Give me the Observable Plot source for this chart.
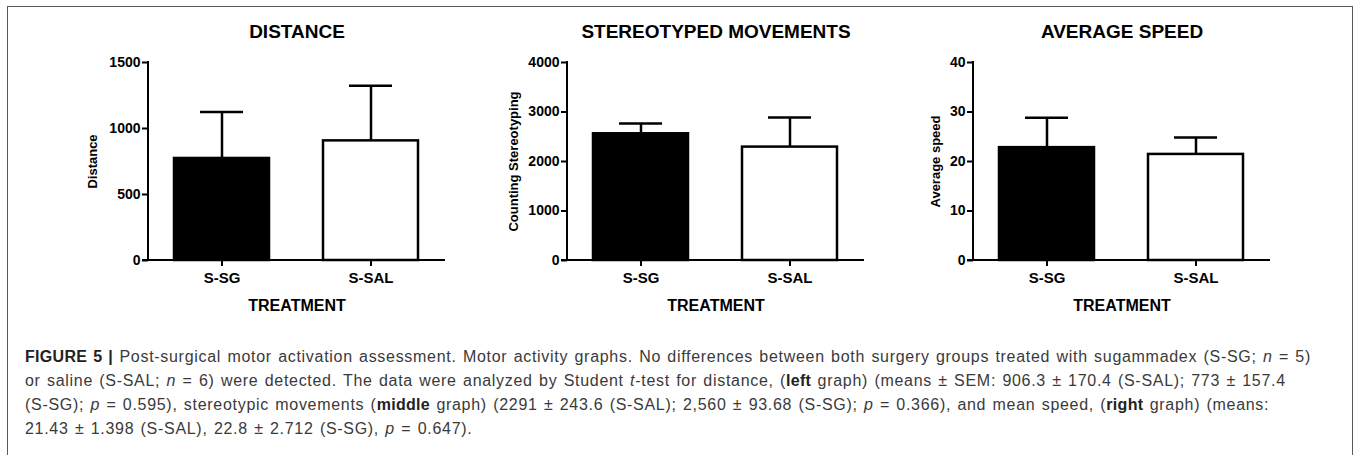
<!DOCTYPE html>
<html>
<head>
<meta charset="utf-8">
<script src="https://cdn.jsdelivr.net/npm/d3@7"></script>
<script src="https://cdn.jsdelivr.net/npm/@observablehq/plot@0.6"></script>
<style>
  body { margin: 0; background: white; }
  #root { position: relative; width: 1358px; height: 455px; overflow: hidden; background: white; }
  #frame { position: absolute; left: 7px; top: 6px; width: 1344px; height: 480px; border: 1.5px solid #5a5a5a; border-bottom: none; }
  .panel { position: absolute; top: 0; }
  #caption { position: absolute; left: 25px; top: 345px; font-family: "Liberation Sans", Arial, sans-serif; font-size: 16px; line-height: 24px; letter-spacing: 0.7px; word-spacing: 1.2px; color: #3a3a3a; white-space: nowrap; }
  #caption b { color: #222; letter-spacing: 0.3px; }
</style>
</head>
<body>
<div id="root">
  <div id="frame"></div>
  <div class="panel" id="p1" style="left:48px"></div>
  <div class="panel" id="p2" style="left:467px"></div>
  <div class="panel" id="p3" style="left:873px"></div>
  <div id="caption">
    <div><b>FIGURE 5 |</b> Post-surgical motor activation assessment. Motor activity graphs. No differences between both surgery groups treated with sugammadex (S-SG; <i>n</i> = 5)</div>
    <div>or saline (S-SAL; <i>n</i> = 6) were detected. The data were analyzed by Student <i>t</i>-test for distance, (<b>left</b> graph) (means ± SEM: 906.3 ± 170.4 (S-SAL); 773 ± 157.4</div>
    <div>(S-SG); <i>p</i> = 0.595), stereotypic movements (<b>middle</b> graph) (2291 ± 243.6 (S-SAL); 2,560 ± 93.68 (S-SG); <i>p</i> = 0.366), and mean speed, (<b>right</b> graph) (means:</div>
    <div>21.43 ± 1.398 (S-SAL), 22.8 ± 2.712 (S-SG), <i>p</i> = 0.647).</div>
  </div>
</div>
<script>
// ---- data ----
const categories = ["S-SG", "S-SAL"];

const distanceMean = [773, 906.3];
const distanceError = [352, 417];
const distanceTicks = [0, 500, 1000, 1500];

const stereoMean = [2560, 2291];
const stereoError = [209, 597];
const stereoTicks = [0, 1000, 2000, 3000, 4000];

const speedMean = [22.8, 21.43];
const speedError = [6.06, 3.42];
const speedTicks = [0, 10, 20, 30, 40];

const titles = ["DISTANCE", "STEREOTYPED MOVEMENTS", "AVERAGE SPEED"];
const yLabels = ["Distance", "Counting Stereotyping", "Average speed"];
const xLabel = "TREATMENT";

function panel(title, yLabel, means, errors, ticks, labelDx) {
  const data = categories.map((c, i) => ({group: c, mean: means[i], top: means[i] + errors[i]}));
  const yMax = ticks[ticks.length - 1];
  const axisLines = (index, scales, values, dims) => {
    const y = scales.y;
    const g = d3.create("svg:g").attr("stroke", "black").attr("stroke-width", 2).attr("fill", "none");
    const x0 = dims.marginLeft, x1 = dims.width - dims.marginRight;
    g.append("line").attr("x1", x0).attr("x2", x0).attr("y1", y(yMax) - 1).attr("y2", y(0) + 1);
    g.append("line").attr("x1", x0 - 6).attr("x2", x1).attr("y1", y(0)).attr("y2", y(0));
    return g.node();
  };
  return Plot.plot({
    width: 407,
    height: 330,
    marginLeft: 100,
    marginRight: 10,
    marginTop: 62,
    marginBottom: 70,
    style: {background: "transparent", fontFamily: "'Liberation Sans', Arial, sans-serif", overflow: "visible", color: "black"},
    x: {domain: categories, paddingInner: 0.36, paddingOuter: 0.175, label: null},
    y: {domain: [0, yMax], label: null},
    marks: [
      Plot.ruleX(data, {x: "group", y1: "mean", y2: "top", stroke: "black", strokeWidth: 2.5}),
      Plot.tickY(data, {x: "group", y: "top", stroke: "black", strokeWidth: 2.5, insetLeft: 26, insetRight: 26}),
      Plot.barY(data, {x: "group", y: "mean", fill: d => d.group === categories[0] ? "black" : "white", stroke: "black", strokeWidth: 2.5}),
      Plot.axisY({ticks, tickFormat: d3.format("d"), tickSize: 6, tickPadding: 2, fontSize: 14, fontWeight: "bold", strokeWidth: 2, label: null}),
      Plot.axisX({tickSize: 6, tickPadding: 6, fontSize: 15, fontWeight: "bold", strokeWidth: 2, label: null}),
      axisLines,
      Plot.text([title], {text: d => d, frameAnchor: "top", lineAnchor: "bottom", dy: -25, fontSize: 19, fontWeight: "bold"}),
      Plot.text([yLabel], {text: d => d, frameAnchor: "left", rotate: -90, textAnchor: "middle", lineAnchor: "top", dx: labelDx, fontSize: 13, fontWeight: "bold"}),
      Plot.text([xLabel], {text: d => d, frameAnchor: "bottom", lineAnchor: "bottom", dy: 50, fontSize: 16, fontWeight: "bold"})
    ]
  });
}

document.getElementById("p1").append(panel(titles[0], yLabels[0], distanceMean, distanceError, distanceTicks, -61));
document.getElementById("p2").append(panel(titles[1], yLabels[1], stereoMean, stereoError, stereoTicks, -59));
document.getElementById("p3").append(panel(titles[2], yLabels[2], speedMean, speedError, speedTicks, -43));
</script>
</body>
</html>
